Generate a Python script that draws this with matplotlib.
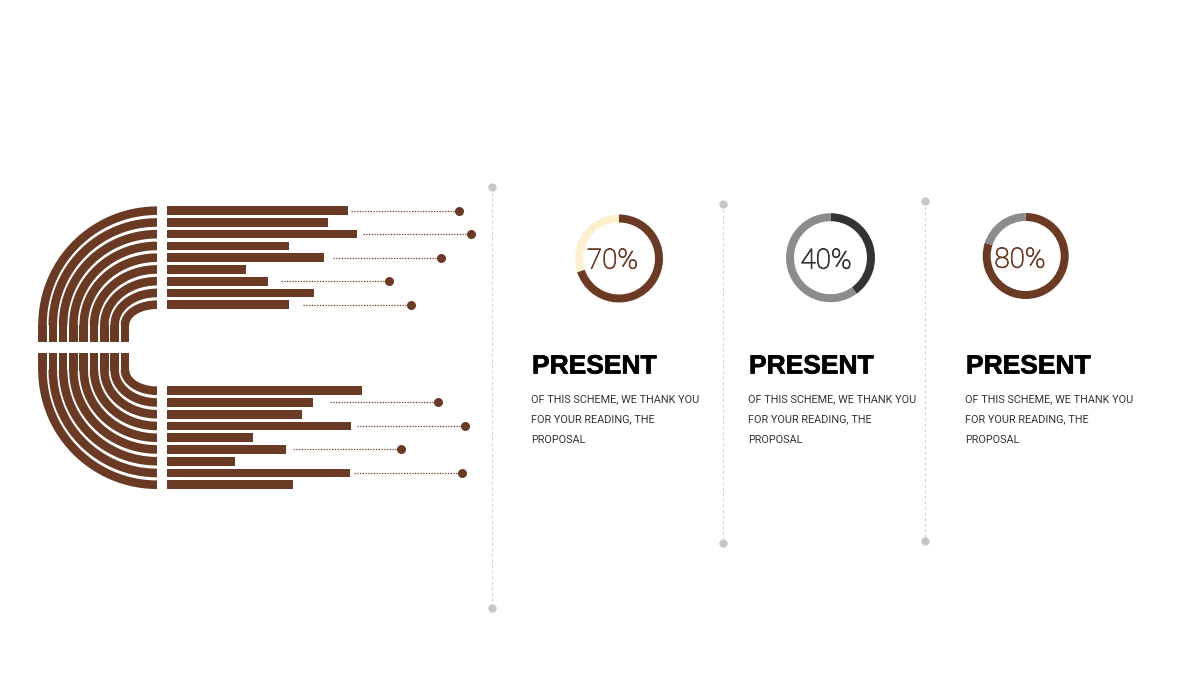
import matplotlib
matplotlib.use("Agg")
import numpy as np
import matplotlib.pyplot as plt
import matplotlib.patheffects as pe
from matplotlib.patches import Polygon, Rectangle

# ---------------- data ----------------
top_bar_lengths = [181, 161, 190, 122, 157, 79, 101, 147, 122]
bottom_bar_lengths = [195, 146, 135, 184, 86, 119, 68, 183, 126]
top_dot_rows = [0, 2, 4, 6, 8]
top_dot_x = [459, 471, 441, 389, 411]
bottom_dot_rows = [1, 3, 5, 7]
bottom_dot_x = [438, 465, 401, 462]

donut_values = [70, 40, 80]
donut_labels = ["70%", "40%", "80%"]
donut_colors = ["#6B3A24", "#333333", "#6B3A24"]
donut_rest_colors = ["#FCF0CF", "#8C8C8C", "#8C8C8C"]
donut_text_colors = ["#6B3A24", "#333333", "#6B3A24"]
titles = ["PRESENT", "PRESENT", "PRESENT"]
bodies = ["OF THIS SCHEME, WE THANK YOU\nFOR YOUR READING, THE\nPROPOSAL"] * 3

BROWN = "#6B3A24"

# ---------------- figure ----------------
fig = plt.figure(figsize=(12, 6.75), dpi=100)
ax = fig.add_axes([0, 0, 1, 1])

# donuts (drawn first, limits fixed afterwards)
donut_centers = [(619, 258.5), (830.5, 257.7), (1025.7, 256)]
donut_r = [44, 44.5, 43]
text_pos = [(612.5, 261), (826, 261), (1020, 260)]
for i, v in enumerate(donut_values):
    ax.pie([v, 100 - v], colors=[donut_colors[i], donut_rest_colors[i]],
           startangle=-90, counterclock=True, radius=donut_r[i],
           center=donut_centers[i], frame=True,
           wedgeprops=dict(width=8, linewidth=0))
    ax.text(text_pos[i][0], text_pos[i][1], donut_labels[i],
            ha="center", va="center", fontsize=20, color=donut_text_colors[i],
            family="Roboto", fontweight="light",
            path_effects=[pe.withStroke(linewidth=0.6, foreground=donut_text_colors[i])])

ax.set_xlim(0, 1200)
ax.set_ylim(675, 0)
ax.set_aspect("equal")
ax.axis("off")

# ---------------- arcs + bars ----------------
pitch = 11.75
thick = 8.6
bar_left = 167
arc_end_x = 157
top_first_y = 210.7
bot_first_y = 390.7
top_center_y = 325.0
bot_center_y = 370.0
gap_top = 342.0
gap_bot = 353.0
hr_outer = 114.5   # horizontal radius of the outermost arc
hr_inner = 32.0    # horizontal radius of the innermost arc

n = len(top_bar_lengths)
top_y = [top_first_y + i * pitch for i in range(n)]
bot_y = [bot_first_y + i * pitch for i in range(len(bottom_bar_lengths))]
hstep = (hr_outer - hr_inner) / (n - 1)


def band(cx, cy, a, b, w, t0, t1):
    t = np.linspace(np.radians(t0), np.radians(t1), 80)
    ao, bo, ai, bi = a + w / 2, b + w / 2, a - w / 2, b - w / 2
    outer = np.c_[cx + ao * np.cos(t), cy + bo * np.sin(t)]
    inner = np.c_[cx + ai * np.cos(t[::-1]), cy + bi * np.sin(t[::-1])]
    return Polygon(np.vstack([outer, inner]), closed=True,
                   facecolor=BROWN, edgecolor="none")


for i, y in enumerate(top_y):
    b = top_center_y - y
    a = hr_outer - i * hstep
    ax.add_patch(band(arc_end_x, top_center_y, a, b, thick, 180, 270))
    ax.add_patch(Rectangle((arc_end_x - a - thick / 2, top_center_y - 0.5), thick,
                           gap_top - top_center_y + 0.5, facecolor=BROWN, edgecolor="none"))
for i, y in enumerate(bot_y):
    b = y - bot_center_y
    a = hr_inner + i * hstep
    ax.add_patch(band(arc_end_x, bot_center_y, a, b, thick, 90, 180))
    ax.add_patch(Rectangle((arc_end_x - a - thick / 2, gap_bot), thick,
                           bot_center_y - gap_bot + 0.5, facecolor=BROWN, edgecolor="none"))

ax.barh(top_y, top_bar_lengths, left=bar_left, height=thick, color=BROWN)
ax.barh(bot_y, bottom_bar_lengths, left=bar_left, height=thick, color=BROWN)

line_len = 108
for rows, xs, ys in [(top_dot_rows, top_dot_x, top_y), (bottom_dot_rows, bottom_dot_x, bot_y)]:
    for r_i, dx in zip(rows, xs):
        y = ys[r_i]
        ax.plot([dx - line_len, dx], [y, y], color=BROWN, lw=0.9,
                linestyle=(0, (1, 1.2)))
        ax.plot(dx, y, "o", color=BROWN, markersize=6.5, markeredgewidth=0)

# ---------------- separators ----------------
sep = [(492, 187, 608), (723, 204, 543), (925, 201, 541)]
for x, y0, y1 in sep:
    ax.plot([x, x], [y0, y1], color="#D0D0D0", lw=0.8, linestyle=(0, (2.5, 2.5)))
    ax.plot([x, x], [y0, y1], "o", color="#C6C6C6", markersize=6, markeredgewidth=0)

# ---------------- text ----------------
col_x = [532, 749, 966]
for i, x in enumerate(col_x):
    ax.text(x, 373.5, titles[i], ha="left", va="baseline", fontsize=19,
            fontweight="bold", color="#000000", family="Liberation Sans",
            path_effects=[pe.withStroke(linewidth=0.5, foreground="#000000")])
    ax.text(x - 1, 394, bodies[i], ha="left", va="top", fontsize=7.8,
            color="#333333", family="Roboto", linespacing=2.3)

fig.savefig("out.png", dpi=100, facecolor="white")
